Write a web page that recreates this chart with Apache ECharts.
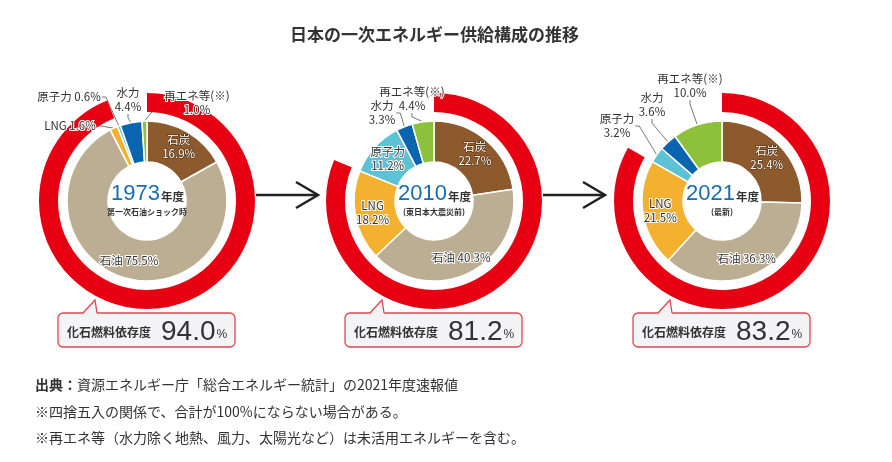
<!DOCTYPE html>
<html>
<head>
<meta charset="utf-8">
<script src="https://cdn.jsdelivr.net/npm/echarts@6/dist/echarts.min.js"></script>
<style>
  html, body { margin: 0; padding: 0; background: #fff; }
  #main { width: 892px; height: 462px; }
</style>
</head>
<body>
<div id="main"></div>
<script>
'use strict';
/* 日本の一次エネルギー供給構成の推移 */

var categories = ['石炭', '石油', 'LNG', '原子力', '水力', '再エネ等(※)'];
var years = ['1973', '2010', '2021'];
var yearNotes = ['第一次石油ショック時', '(東日本大震災前)', '(最新)'];
var share1973 = [16.9, 75.5, 1.6, 0.6, 4.4, 1.0];
var share2010 = [22.7, 40.3, 18.2, 11.2, 3.3, 4.4];
var share2021 = [25.4, 36.3, 21.5, 3.2, 3.6, 10.0];
var fossilDep = [94.0, 81.2, 83.2];
var footnotes = [
  '資源エネルギー庁「総合エネルギー統計」の2021年度速報値',
  '※四捨五入の関係で、合計が100%にならない場合がある。',
  '※再エネ等（水力除く地熱、風力、太陽光など）は未活用エネルギーを含む。'
];

var shares = [share1973, share2010, share2021];
var sliceColors = ['#8c5a2d', '#bcae93', '#f4b12f', '#5ec2d6', '#0a64b0', '#8dc13c'];
var RED = '#e60012';
var JP = 'Noto Sans CJK JP';
var NUM = 'Liberation Sans';

var CX = [147, 434, 722];
var CY = 201;

// outside label offsets from pie centre (only for the small slices)
var outsideLabels = [
  { 2: [-77, -75], 3: [-78, -104], 4: [-19, -101], 5: [50, -98] },
  { 4: [-52, -88], 5: [-22, -102] },
  { 3: [-105, -75], 4: [-70, -96], 5: [-32, -115] }
];
// labels written on one line
var oneLine = [[1, 2, 3], [1], [1]];

var myChart = echarts.init(document.getElementById('main'));
var series = [];
var graphics = [];

years.forEach(function (yr, i) {
  var cx = CX[i];

  /* red ring : fossil fuel dependence */
  series.push({
    type: 'pie',
    name: yr + '化石燃料依存度',
    center: [cx, CY],
    radius: [89, 108],
    startAngle: 90,
    clockwise: true,
    silent: true,
    animation: false,
    label: { show: false },
    labelLine: { show: false },
    data: [
      { name: '化石燃料', value: fossilDep[i], itemStyle: { color: RED } },
      { name: 'その他', value: +(100 - fossilDep[i]).toFixed(1), itemStyle: { color: 'rgba(0,0,0,0)' } }
    ]
  });

  /* inner donut : supply mix */
  var outs = outsideLabels[i];
  series.push({
    type: 'pie',
    name: yr,
    center: [cx, CY],
    radius: [39, 80],
    startAngle: 90,
    clockwise: true,
    silent: true,
    animation: false,
    avoidLabelOverlap: false,
    itemStyle: { borderColor: '#fff', borderWidth: 1.5 },
    label: {
      fontFamily: JP,
      fontSize: 11.5,
      lineHeight: 14,
      formatter: function (p) {
        var sep = oneLine[i].indexOf(p.dataIndex) >= 0 ? ' ' : '\n';
        return p.name + sep + p.value.toFixed(1) + '%';
      }
    },
    labelLayout: function (p) {
      var o = outs[p.dataIndex];
      if (!o) return {};
      return { x: cx + o[0], y: CY + o[1], align: 'center', verticalAlign: 'middle' };
    },
    data: shares[i].map(function (v, k) {
      var isOut = !!outs[k];
      var lbl;
      if (isOut) {
        lbl = { position: 'outside', color: '#333', textBorderColor: '#fff', textBorderWidth: 2 };
      } else if (k === 0) {
        lbl = { position: 'inside', color: '#fff', textBorderColor: '#4a2e14', textBorderWidth: 1 };
      } else {
        lbl = { position: 'inside', color: '#333', textBorderColor: '#fff', textBorderWidth: 2 };
      }
      return {
        name: categories[k],
        value: v,
        itemStyle: { color: sliceColors[k] },
        label: lbl,
        labelLine: {
          show: isOut,
          length: 6,
          length2: 4,
          lineStyle: { color: '#555', width: 0.8 }
        }
      };
    })
  });

  /* centre text: year */
  graphics.push({
    type: 'text',
    x: cx + 13,
    y: CY - 7,
    style: {
      text: yr,
      fontFamily: NUM,
      fontSize: 22,
      fill: '#1a6cb0',
      align: 'right',
      verticalAlign: 'middle'
    },
    z: 10
  });
  graphics.push({
    type: 'text',
    x: cx + 14,
    y: CY - 4,
    style: {
      text: '年度',
      fontFamily: JP,
      fontSize: 11.5,
      fontWeight: 'bold',
      fill: '#333',
      align: 'left',
      verticalAlign: 'middle'
    },
    z: 10
  });
  graphics.push({
    type: 'text',
    x: cx,
    y: CY + 11,
    style: {
      text: yearNotes[i],
      fontFamily: JP,
      fontSize: 8,
      fontWeight: 'bold',
      fill: '#333',
      align: 'center',
      verticalAlign: 'middle'
    },
    z: 10
  });

  /* callout box */
  var x0 = cx - 89, x1 = cx + 88, y0 = 313, y1 = 347;
  graphics.push({
    type: 'rect',
    shape: { x: x0, y: y0, width: x1 - x0, height: y1 - y0, r: 5 },
    style: { fill: '#f4f4f6', stroke: '#e0474f', lineWidth: 1.3 },
    z: 5
  });
  graphics.push({
    type: 'polygon',
    shape: { points: [[cx - 64, y0 + 1], [cx - 52, 300], [cx - 50, y0 + 1]] },
    style: { fill: '#f4f4f6' },
    z: 6
  });
  graphics.push({
    type: 'polyline',
    shape: { points: [[cx - 64, y0], [cx - 52, 300], [cx - 50, y0]] },
    style: { stroke: '#e0474f', lineWidth: 1.3, fill: null },
    z: 7
  });
  graphics.push({
    type: 'text',
    x: cx - 80,
    y: 332,
    style: { text: '化石燃料依存度', fontFamily: JP, fontSize: 12, fontWeight: 'bold', fill: '#333', verticalAlign: 'middle' },
    z: 8
  });
  graphics.push({
    type: 'text',
    x: cx + 14,
    y: 331,
    style: {
      text: '{b|' + fossilDep[i].toFixed(1) + '}{c|%}',
      fontFamily: NUM,
      verticalAlign: 'middle',
      rich: {
        b: { fontFamily: NUM, fontSize: 28, fill: '#333', verticalAlign: 'bottom', lineHeight: 30 },
        c: { fontFamily: NUM, fontSize: 12, fill: '#333', verticalAlign: 'bottom', lineHeight: 14, padding: [0, 0, 5, 1] }
      }
    },
    z: 8
  });
});

/* arrows between the charts */
[0, 1].forEach(function (i) {
  var ax = CX[i] + 109, bx = CX[i] + 171, ay = 195;
  graphics.push({
    type: 'line',
    shape: { x1: ax, y1: ay, x2: bx, y2: ay },
    style: { stroke: '#222', lineWidth: 2.5 }
  });
  graphics.push({
    type: 'polyline',
    shape: { points: [[bx - 22, ay - 13], [bx, ay], [bx - 22, ay + 13]] },
    style: { stroke: '#222', lineWidth: 2.5, fill: null }
  });
});

/* footnotes */
graphics.push({
  type: 'text',
  x: 35,
  y: 385,
  style: {
    text: '{h|出典：}{t|' + footnotes[0] + '}',
    fontFamily: JP,
    verticalAlign: 'middle',
    rich: {
      h: { fontFamily: JP, fontSize: 14, fontWeight: 'bold', fill: '#333' },
      t: { fontFamily: JP, fontSize: 14, fill: '#333' }
    }
  }
});
[1, 2].forEach(function (k) {
  graphics.push({
    type: 'text',
    x: 35,
    y: 385 + 26.5 * k,
    style: { text: footnotes[k], fontFamily: JP, fontSize: 14, fill: '#333', verticalAlign: 'middle' }
  });
});

var option = {
  backgroundColor: '#fff',
  animation: false,
  title: {
    text: '日本の一次エネルギー供給構成の推移',
    left: 285,
    top: 21,
    textStyle: { fontFamily: JP, fontSize: 17, fontWeight: 'bold', color: '#333' }
  },
  series: series,
  graphic: graphics
};

myChart.setOption(option);
</script>
</body>
</html>
